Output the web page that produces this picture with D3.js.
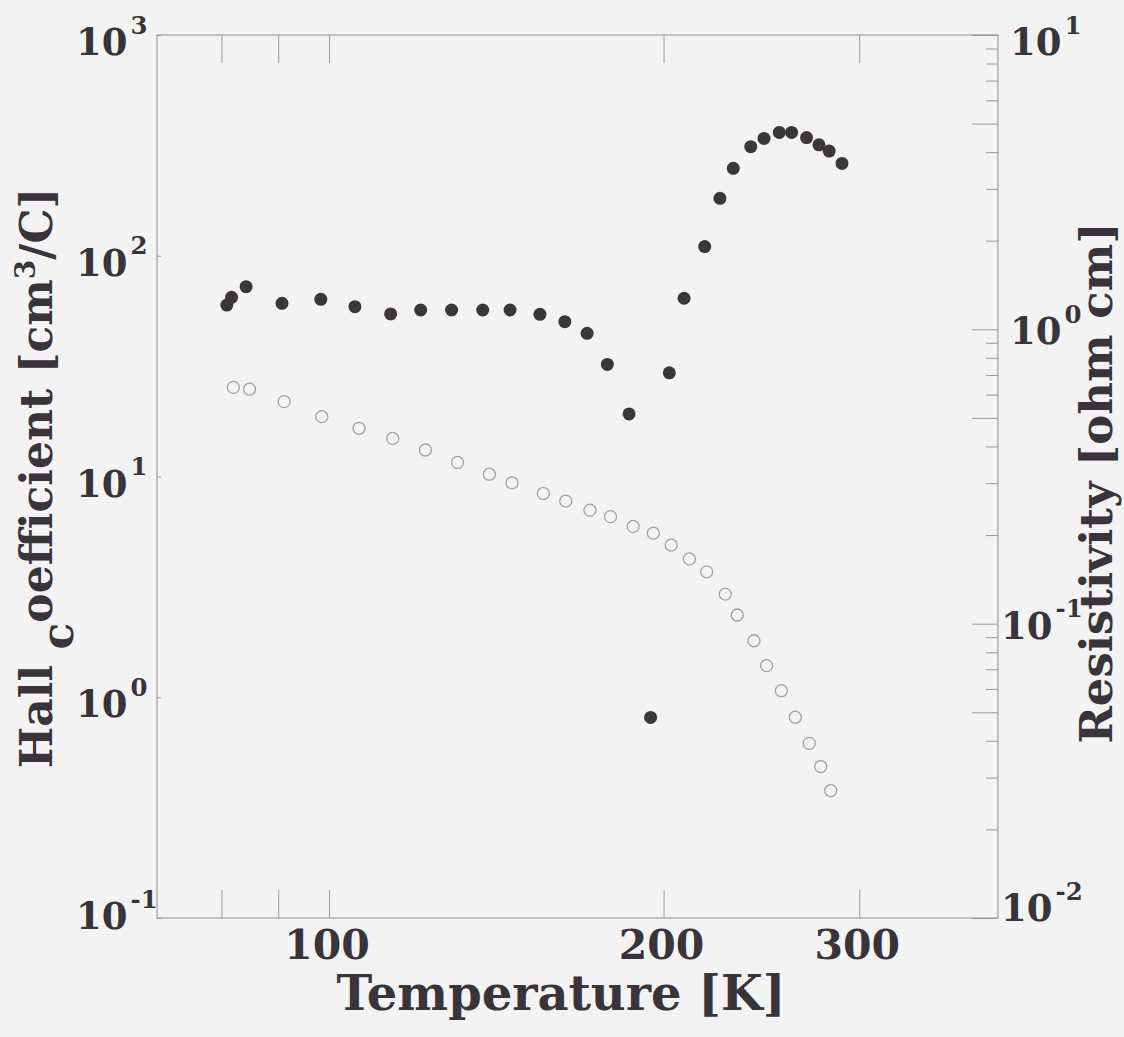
<!DOCTYPE html>
<html>
<head>
<meta charset="utf-8">
<script src="https://cdn.jsdelivr.net/npm/d3@7"></script>
<style>
  body { margin: 0; background: #f4f3f3; }
  svg { display: block; }
  .axis path { display: none; }
  .axis line { stroke: #9c9a9b; stroke-width: 1; }
  .lbl { font-family: 'DejaVu Serif', serif; font-weight: bold; fill: #38343a; }
</style>
</head>
<body>
<script>
// values
const hallTemps = [80.9, 81.7, 84.2, 90.7, 98.3, 105.5, 113.6, 120.9, 128.9, 137.5, 145.5, 154.8, 163.0, 170.7, 178.0,
                   186.2, 194.7, 202.4, 208.7, 217.8, 224.8, 231.1, 239.6, 246.3, 254.2, 260.8, 269.0, 276.0, 281.9, 289.5];
const hallValues = [59.8, 64.8, 72.4, 60.9, 63.5, 58.8, 54.5, 56.8, 56.8, 56.8, 56.8, 54.3, 50.3, 44.5, 32.2,
                    19.2, 0.81, 29.5, 64.2, 110, 182, 249, 312, 340, 362, 362, 343, 318, 298, 262];

const resTemps = [82.0, 84.8, 91.1, 98.5, 106.4, 114.1, 122.1, 130.5, 139.4, 146.1, 155.9, 163.3, 171.7, 179.2,
                  187.8, 195.8, 203.2, 211.0, 218.7, 227.3, 233.0, 241.2, 247.6, 255.3, 262.8, 270.5, 277.0, 282.8];
const resValues = [0.635, 0.626, 0.568, 0.505, 0.461, 0.426, 0.389, 0.353, 0.322, 0.301, 0.277, 0.261, 0.243, 0.231,
                   0.214, 0.203, 0.185, 0.166, 0.150, 0.126, 0.107, 0.0875, 0.072, 0.0592, 0.0481, 0.0392, 0.0327, 0.0271];

const xTicks = [80, 90, 100, 200, 300];
const xTickLabels = ['', '', '100', '200', '300'];
const leftDecades = [-1, 0, 1, 2, 3];
const rightDecades = [-2, -1, 0, 1];

const width = 1124;
const height = 1037;
const margin = {top: 35, right: 126, bottom: 119, left: 157};

const svg = d3.select('body').append('svg')
    .attr('width', width)
    .attr('height', height);

svg.append('rect').attr('width', width).attr('height', height).attr('fill', '#f4f3f3');

const x = d3.scaleLog().domain([70, 400]).range([margin.left, width - margin.right]);
const yLeft = d3.scaleLog().domain([0.1, 1000]).range([height - margin.bottom, margin.top]);
const yRight = d3.scaleLog().domain([0.01, 10]).range([height - margin.bottom, margin.top]);

// frame
svg.append('rect')
    .attr('x', margin.left)
    .attr('y', margin.top)
    .attr('width', width - margin.left - margin.right)
    .attr('height', height - margin.top - margin.bottom)
    .attr('fill', 'none')
    .attr('stroke', '#a09e9f')
    .attr('stroke-width', 1.2);

// x ticks, inward on top and bottom
svg.append('g').attr('class', 'axis')
    .attr('transform', `translate(0,${margin.top})`)
    .call(d3.axisBottom(x).tickValues(xTicks).tickSize(28).tickFormat(''));
svg.append('g').attr('class', 'axis')
    .attr('transform', `translate(0,${height - margin.bottom})`)
    .call(d3.axisTop(x).tickValues(xTicks).tickSize(28).tickFormat(''));

// right axis: long ticks at decades and 5s, short for the rest
const rightLong = [], rightShort = [];
rightDecades.forEach(d => {
    rightLong.push(Math.pow(10, d));
    if (d < 1) {
        for (let m = 2; m <= 9; m++) {
            (m === 5 ? rightLong : rightShort).push(m * Math.pow(10, d));
        }
    }
});
svg.append('g').attr('class', 'axis')
    .attr('transform', `translate(${width - margin.right},0)`)
    .call(d3.axisLeft(yRight).tickValues(rightLong).tickSize(26).tickFormat(''));
svg.append('g').attr('class', 'axis')
    .attr('transform', `translate(${width - margin.right},0)`)
    .call(d3.axisLeft(yRight).tickValues(rightShort).tickSize(12).tickFormat(''));

// left axis: tiny ticks only
svg.append('g').attr('class', 'axis')
    .attr('transform', `translate(${margin.left},0)`)
    .call(d3.axisRight(yLeft).tickValues(leftDecades.map(d => Math.pow(10, d))).tickSize(4).tickFormat(''));

// tick labels
svg.selectAll('.xlab')
    .data(xTicks.filter((d, i) => xTickLabels[i] !== ''))
    .enter().append('text')
    .attr('class', 'lbl')
    .attr('x', d => x(d) - 2)
    .attr('y', 959)
    .attr('text-anchor', 'middle')
    .style('font-size', '41px')
    .text(d => xTickLabels[xTicks.indexOf(d)]);

function powerLabel(sel, xPos, yPos, exp, size) {
    const t = sel.append('text')
        .attr('class', 'lbl')
        .attr('x', xPos)
        .attr('y', yPos)
        .style('font-size', size + 'px');
    t.append('tspan').text('10');
    t.append('tspan')
        .attr('dy', -size * 0.58)
        .attr('dx', 3)
        .style('font-size', (size * 0.66) + 'px')
        .text(exp);
}

leftDecades.forEach(d => {
    const yy = Math.min(yLeft(Math.pow(10, d)) + 20, 929);
    powerLabel(svg, 76, yy, d, 37);
});
rightDecades.forEach(d => {
    const yy = Math.max(55, Math.min(yRight(Math.pow(10, d)) + 15, 921));
    powerLabel(svg, d < 0 ? 1001 : 1010, yy, d, 37);
});

// axis titles
svg.append('text')
    .attr('class', 'lbl')
    .attr('x', 561)
    .attr('y', 1010)
    .attr('text-anchor', 'middle')
    .style('font-size', '48px')
    .text('Temperature [K]');

const leftTitle = svg.append('text')
    .attr('class', 'lbl')
    .attr('transform', 'translate(52,478) rotate(-90)')
    .attr('text-anchor', 'middle')
    .style('font-size', '44px');
leftTitle.append('tspan').text('Hall ');
leftTitle.append('tspan').attr('dy', 21).text('c');
leftTitle.append('tspan').attr('dy', -21).text('oefficient [cm');
leftTitle.append('tspan').attr('dy', -17).style('font-size', '28px').text('3');
leftTitle.append('tspan').attr('dy', 17).text('/C]');

svg.append('text')
    .attr('class', 'lbl')
    .attr('transform', 'translate(1112,483) rotate(-90)')
    .attr('text-anchor', 'middle')
    .style('font-size', '45px')
    .text('Resistivity [ohm cm]');

// resistivity: open circles on right axis
svg.append('g').selectAll('circle')
    .data(resTemps.map((t, i) => ({t: t, v: resValues[i]})))
    .enter().append('circle')
    .attr('cx', d => x(d.t))
    .attr('cy', d => yRight(d.v))
    .attr('r', 6)
    .attr('fill', 'none')
    .attr('stroke', '#a2a0a1')
    .attr('stroke-width', 1.3);

// Hall coefficient: filled circles on left axis
svg.append('g').selectAll('circle')
    .data(hallTemps.map((t, i) => ({t: t, v: hallValues[i]})))
    .enter().append('circle')
    .attr('cx', d => x(d.t))
    .attr('cy', d => yLeft(d.v))
    .attr('r', 6.5)
    .attr('fill', '#3a3639');
</script>
</body>
</html>
